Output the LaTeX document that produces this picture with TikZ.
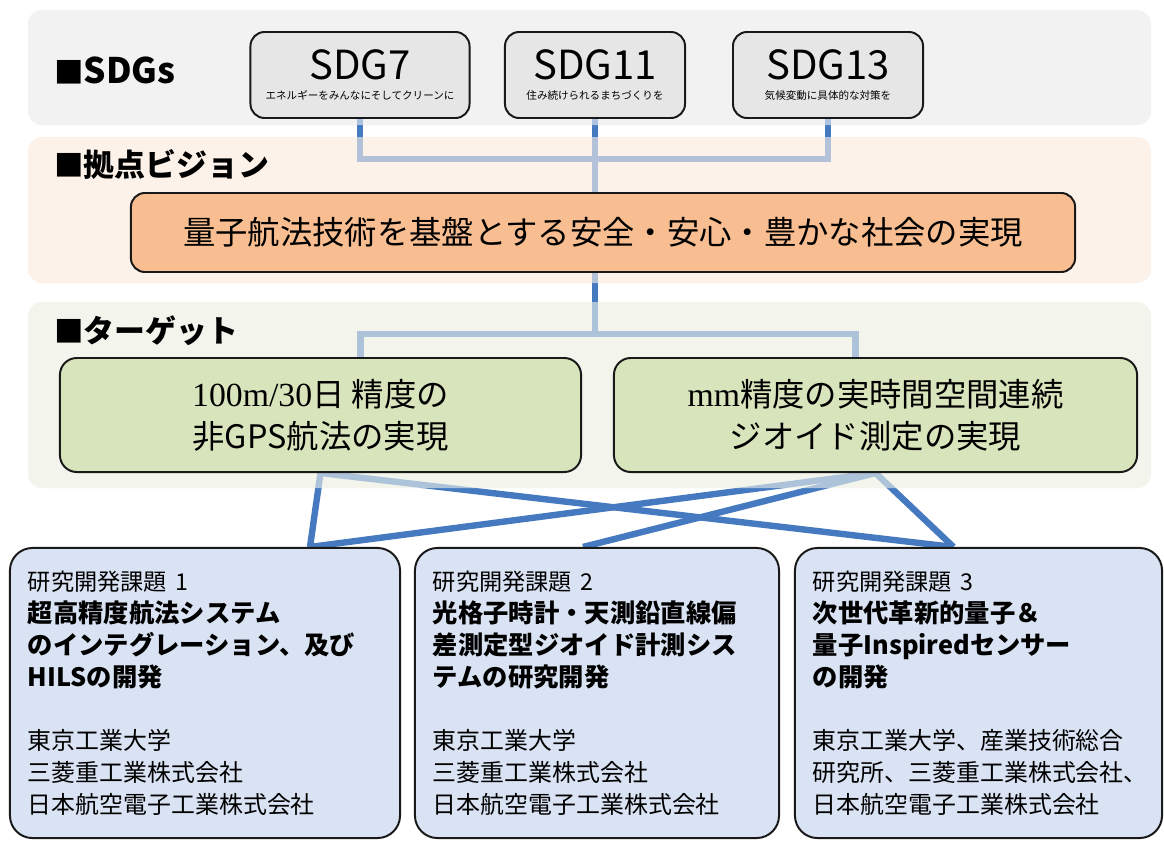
\documentclass[tikz,border=0pt]{standalone}
\usepackage{fontspec}
\setmainfont{Noto Sans CJK JP}
\newfontfamily\serifnum{Liberation Serif}
\usepackage{xcolor}
\usetikzlibrary{positioning,calc}

\definecolor{bandgray}{RGB}{242,242,242}
\definecolor{bandpeach}{RGB}{253,242,233}
\definecolor{bandgreen}{RGB}{243,245,236}
\definecolor{sdgfill}{RGB}{230,230,230}
\definecolor{visionfill}{RGB}{248,190,145}
\definecolor{targetfill}{RGB}{216,228,188}
\definecolor{taskfill}{RGB}{218,227,243}
\definecolor{linkblue}{RGB}{70,122,192}

\newcommand{\sqmark}{{\fontsize{21}{21}\selectfont ■}}
\newcommand{\sdgsub}[1]{{\fontsize{7.5}{9}\selectfont #1}}

\pgfdeclarelayer{bg}
\pgfdeclarelayer{links}
\pgfdeclarelayer{veil}
\pgfsetlayers{bg,links,veil,main}

\begin{document}
\begin{tikzpicture}[x=0.025cm,y=-0.025cm,
    band/.style={rounded corners=10pt},
    veil/.style={rounded corners=10pt,fill opacity=0.6},
    bandlabel/.style={anchor=west,inner sep=0pt,font=\fontsize{22}{24}\selectfont\bfseries},
    sdgbox/.style={draw=black!90,line width=1.4pt,fill=sdgfill,rounded corners=10pt,
        minimum height=2.15cm,align=center,inner sep=0pt,font=\fontsize{28.5}{14}\selectfont},
    visionbox/.style={draw=black!90,line width=1.4pt,fill=visionfill,rounded corners=10pt,
        minimum width=23.6cm,minimum height=1.975cm,font=\fontsize{23}{28}\selectfont},
    targetbox/.style={draw=black!90,line width=1.4pt,fill=targetfill,rounded corners=12pt,
        minimum height=2.85cm,align=center,font=\fontsize{23}{30}\selectfont},
    taskbox/.style={draw=black!90,line width=1.4pt,fill=taskfill,rounded corners=16pt,
        minimum height=7.25cm,align=left,inner xsep=0.45cm,inner ysep=0pt,
        font=\fontsize{17}{22.7}\selectfont},
    link/.style={draw=linkblue,line width=0.16cm}
]
\useasboundingbox (0,0) rectangle (1164,841);

% bands
\begin{pgfonlayer}{bg}
    \fill[white] (0,0) rectangle (1164,841);
    \fill[bandgray,band] (28,10) rectangle (1151,125);
    \fill[bandpeach,band] (28,137) rectangle (1151,283);
    \fill[bandgreen,band] (28,302) rectangle (1151,488);
\end{pgfonlayer}
\begin{pgfonlayer}{veil}
    \fill[bandgray,veil] (28,10) rectangle (1151,125);
    \fill[bandpeach,veil] (28,137) rectangle (1151,283);
    \fill[bandgreen,veil] (28,302) rectangle (1151,488);
\end{pgfonlayer}

\node[bandlabel] (lsdg) at (54,70) {\sqmark{\fontsize{25}{26}\selectfont SDGs}};
\node[bandlabel] (lvision) at (54,164) {\sqmark 拠点ビジョン};
\node[bandlabel] (ltarget) at (54,331) {\sqmark ターゲット};

% SDGs
\node[sdgbox,minimum width=5.475cm] (sdg7) at (360,75)
    {SDG7\\\sdgsub{エネルギーをみんなにそしてクリーンに}};
\node[sdgbox,minimum width=4.5cm] (sdg11) at (595,75)
    {SDG11\\\sdgsub{住み続けられるまちづくりを}};
\node[sdgbox,minimum width=4.75cm] (sdg13) at (828,75)
    {SDG13\\\sdgsub{気候変動に具体的な対策を}};

\node[visionbox] (vision) at (603,232.5) {量子航法技術を基盤とする安全・安心・豊かな社会の実現};

% targets
\node[targetbox,minimum width=13.025cm] (target1) at (320.5,415)
    {{\serifnum\fontsize{24}{30}\selectfont 100m/30}日 精度の\\非GPS航法の実現};
\node[targetbox,minimum width=13.075cm] (target2) at (875.5,415)
    {{\serifnum\fontsize{24}{30}\selectfont mm}精度の実時間空間連続\\ジオイド測定の実現};

% tasks
\node[taskbox,text width=8.85cm] (task1) at (205,693)
    {{\fontsize{16.5}{22.7}\selectfont 研究開発課題 1}\\
     {\fontsize{18}{22.7}\selectfont\bfseries 超高精度航法システム}\\
     {\fontsize{18}{22.7}\selectfont\bfseries のインテグレーション、及び}\\
     {\fontsize{18}{22.7}\selectfont\bfseries HILSの開発}\\[22pt]
     東京工業大学\\三菱重工業株式会社\\日本航空電子工業株式会社};
\node[taskbox,text width=8.2cm] (task2) at (597,693)
    {{\fontsize{16.5}{22.7}\selectfont 研究開発課題 2}\\
     {\fontsize{18}{22.7}\selectfont\bfseries 光格子時計・天測鉛直線偏}\\
     {\fontsize{18}{22.7}\selectfont\bfseries 差測定型ジオイド計測シス}\\
     {\fontsize{18}{22.7}\selectfont\bfseries テムの研究開発}\\[22pt]
     東京工業大学\\三菱重工業株式会社\\日本航空電子工業株式会社};
\node[taskbox,text width=8.275cm] (task3) at (978.5,693)
    {{\fontsize{16.5}{22.7}\selectfont 研究開発課題 3}\\
     {\fontsize{18}{22.7}\selectfont\bfseries 次世代革新的量子＆}\\
     {\fontsize{18}{22.7}\selectfont\bfseries 量子Inspiredセンサー}\\
     {\fontsize{18}{22.7}\selectfont\bfseries の開発}\\[22pt]
     東京工業大学、産業技術総合\\研究所、三菱重工業株式会社、\\日本航空電子工業株式会社};

% connectors
\begin{pgfonlayer}{links}
    \coordinate (sdgbar) at (0,159);
    \coordinate (tgtbar) at (0,334);
    \draw[link] (sdg7.south) |- (sdgbar -| sdg13.south) -- (sdg13.south);
    \draw[link] (sdg11.south) -- (sdg11.south |- vision.north);
    \draw[link] (sdg11.south |- vision.south) -- (sdg11.south |- tgtbar);
    \coordinate (t1in) at ($(target1.north)+(40,0)$);
    \coordinate (t2in) at ($(target2.north)+(-20,0)$);
    \draw[link] (t1in) |- (tgtbar -| t2in) -- (t2in);
    \coordinate (k1) at ($(task1.north)+(105,0)$);
    \coordinate (k2) at ($(task2.north)+(-14,0)$);
    \coordinate (k3) at ($(task3.north)+(-25,0)$);
    \foreach \a/\b in {target1/k1,target1/k3,target2/k1,target2/k2,target2/k3}
        \draw[link] (\a.south) -- (\b);
\end{pgfonlayer}
\end{tikzpicture}
\end{document}
